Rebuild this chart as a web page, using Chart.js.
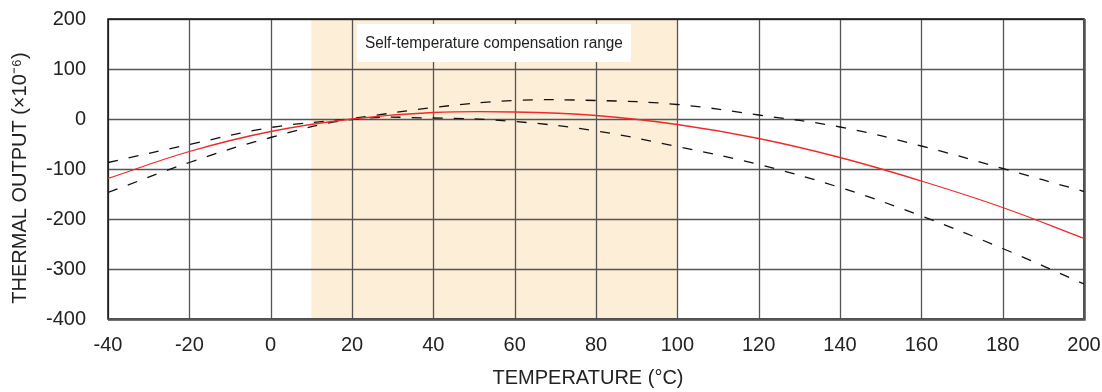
<!DOCTYPE html>
<html>
<head>
<meta charset="utf-8">
<script src="https://cdn.jsdelivr.net/npm/chart.js@4"></script>
<style>
  html, body { margin: 0; padding: 0; background: #fff; }
  #wrap { width: 1102px; height: 392px; }
</style>
</head>
<body>
<div id="wrap"><canvas id="chart" width="1102" height="392"></canvas></div>
<script>
// temperatures in °C
const temps = [-40, -20, 0, 20, 40, 60, 80, 100, 120, 140, 160, 180, 200];
// thermal output (x10^-6)
const typical = [-119, -65, -25, 0, 13, 14, 7, -11, -39, -77, -124, -177, -239];
const upperLimit = [-87, -51, -17, 1, 23, 37, 37, 29, 8, -16, -54, -99, -145];
const lowerLimit = [-147, -87, -37, -1, 2, -5, -24, -55, -91, -137, -194, -259, -330];
// compensation range
const rangeStart = 10;
const rangeEnd = 100;
const rangeLabel = "Self-temperature compensation range";
const xTitle = "TEMPERATURE (°C)";
const yTitle = "THERMAL OUTPUT (×10⁻⁶)";

const font = "'Liberation Sans', Arial, sans-serif";

const rangePlugin = {
    id: "rangeBand",
    beforeDatasetsDraw(chart) {
        const { ctx, chartArea, scales } = chart;
        const x0 = scales.x.getPixelForValue(rangeStart);
        const x1 = scales.x.getPixelForValue(rangeEnd);
        ctx.save();
        ctx.fillStyle = "#fdeed7";
        ctx.fillRect(x0, chartArea.top, x1 - x0, chartArea.bottom - chartArea.top);
        ctx.restore();
    },
};

const gridRedraw = {
    id: "gridOver",
    beforeDatasetsDraw(chart) {
        const { ctx, chartArea, scales } = chart;
        ctx.save();
        ctx.strokeStyle = "#555";
        ctx.lineWidth = 1.3;
        scales.x.ticks.forEach((t) => {
            const px = Math.round(scales.x.getPixelForValue(t.value)) + 0.5;
            ctx.beginPath();
            ctx.moveTo(px, chartArea.top);
            ctx.lineTo(px, chartArea.bottom);
            ctx.stroke();
        });
        scales.y.ticks.forEach((t) => {
            const py = Math.round(scales.y.getPixelForValue(t.value)) + 0.5;
            ctx.beginPath();
            ctx.moveTo(chartArea.left, py);
            ctx.lineTo(chartArea.right, py);
            ctx.stroke();
        });
        // frame
        ctx.strokeStyle = "#111";
        ctx.lineWidth = 1.5;
        ctx.strokeRect(chartArea.left, chartArea.top, chartArea.right - chartArea.left, chartArea.bottom - chartArea.top);
        ctx.lineWidth = 2.5;
        ctx.strokeStyle = "#555";
        ctx.beginPath();
        ctx.moveTo(chartArea.left, chartArea.bottom + 0.5);
        ctx.lineTo(chartArea.right + 0.5, chartArea.bottom + 0.5);
        ctx.lineTo(chartArea.right + 0.5, chartArea.top);
        ctx.stroke();

        // label box
        const bx = scales.x.getPixelForValue(21.2);
        const by = chartArea.top + 5;
        ctx.fillStyle = "#fff";
        ctx.fillRect(bx, by, 274, 38);
        ctx.font = "16px " + font;
        ctx.fillStyle = "#222";
        ctx.textBaseline = "middle";
        ctx.fillText(rangeLabel, bx + 8, by + 20, 258);
        ctx.restore();
    },
    afterDraw(chart) {
        const { ctx } = chart;
        ctx.save();
        ctx.fillStyle = "#222";
        ctx.font = "20px " + font;
        ctx.textAlign = "center";
        ctx.textBaseline = "middle";
        ctx.fillText(xTitle, 588, 378);
        ctx.translate(20, 178);
        ctx.rotate(-Math.PI / 2);
        ctx.fillText(yTitle, 0, 0);
        ctx.restore();
    },
};

new Chart(document.getElementById("chart").getContext("2d"), {
    type: "line",
    data: {
        labels: temps,
        datasets: [
            {
                label: "Typical",
                data: temps.map((t, i) => ({ x: t, y: typical[i] })),
                borderColor: "#ee2a2a",
                borderWidth: 1.3,
                pointRadius: 0,
                tension: 0.4,
            },
            {
                label: "Upper",
                data: temps.map((t, i) => ({ x: t, y: upperLimit[i] })),
                borderColor: "#111",
                borderWidth: 1.3,
                borderDash: [10, 11],
                pointRadius: 0,
                tension: 0.4,
            },
            {
                label: "Lower",
                data: temps.map((t, i) => ({ x: t, y: lowerLimit[i] })),
                borderColor: "#111",
                borderWidth: 1.3,
                borderDash: [10, 11],
                pointRadius: 0,
                tension: 0.4,
            },
        ],
    },
    options: {
        responsive: false,
        animation: false,
        layout: { padding: { top: 19, right: 18, left: 0, bottom: 0 } },
        plugins: {
            legend: { display: false },
            tooltip: { enabled: false },
        },
        scales: {
            x: {
                type: "linear",
                min: -40,
                max: 200,
                ticks: { stepSize: 20, color: "#222", font: { family: font, size: 20 }, padding: 14, maxRotation: 0 },
                grid: { display: false, drawTicks: false },
                border: { display: false },
                afterFit(s) { s.height = 73; s.paddingLeft = 0; s.paddingRight = 0; },
            },
            y: {
                min: -400,
                max: 200,
                ticks: { stepSize: 100, color: "#222", font: { family: font, size: 20 }, padding: 22 },
                grid: { display: false, drawTicks: false },
                border: { display: false },
                afterFit(s) { s.width = 108; s.paddingTop = 0; s.paddingBottom = 0; },
            },
        },
    },
    plugins: [rangePlugin, gridRedraw],
});
</script>
</body>
</html>
